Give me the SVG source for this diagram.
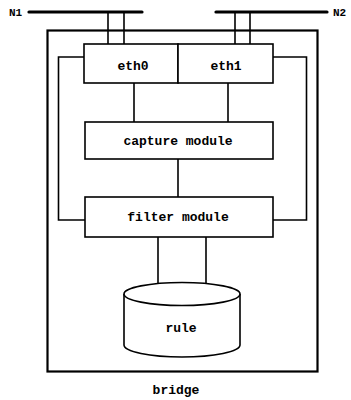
<svg xmlns="http://www.w3.org/2000/svg" width="351" height="400" viewBox="0 0 351 400">
  <style>
    .box { fill: #fff; stroke: #000; stroke-width: 1.6; }
    .wire { fill: none; stroke: #000; stroke-width: 1.6; }
    .bus { fill: none; stroke: #000; stroke-width: 3.2; stroke-linecap: round; }
    .lbl { font-family: "Liberation Mono", "DejaVu Sans Mono", monospace; font-weight: bold; font-size: 13px; text-anchor: middle; fill: #000; }
    .net { font-family: "Liberation Mono", "DejaVu Sans Mono", monospace; font-weight: bold; font-size: 11px; fill: #000; }
  </style>
  <rect width="351" height="400" fill="#fff"/>

  <!-- bridge enclosure -->
  <g id="bridge">
    <rect x="47.5" y="30.5" width="270" height="341" fill="none" stroke="#000" stroke-width="2.2"/>
    <text class="lbl" x="176" y="394">bridge</text>
  </g>

  <!-- network segments -->
  <g id="N1">
    <line class="bus" x1="29" y1="12" x2="142" y2="12"/>
    <text class="net" x="9" y="16">N1</text>
  </g>
  <g id="N2">
    <line class="bus" x1="216" y1="12" x2="327" y2="12"/>
    <text class="net" x="333" y="16">N2</text>
  </g>

  <!-- connectors -->
  <g id="connectors">
    <line class="wire" x1="108" y1="12" x2="108" y2="44"/>
    <line class="wire" x1="124" y1="12" x2="124" y2="44"/>
    <line class="wire" x1="235" y1="12" x2="235" y2="44"/>
    <line class="wire" x1="250" y1="12" x2="250" y2="44"/>
    <line class="wire" x1="134" y1="83" x2="134" y2="122"/>
    <line class="wire" x1="228" y1="83" x2="228" y2="122"/>
    <line class="wire" x1="178" y1="159" x2="178" y2="197"/>
    <polyline class="wire" points="84,57 58.5,57 58.5,220 85,220"/>
    <polyline class="wire" points="273,57 306.5,57 306.5,220 273,220"/>
    <line class="wire" x1="158" y1="237" x2="158" y2="286"/>
    <line class="wire" x1="206" y1="237" x2="206" y2="286"/>
  </g>

  <!-- interfaces -->
  <g id="eth0">
    <rect class="box" x="84" y="44" width="94" height="39"/>
    <text class="lbl" x="133" y="70">eth0</text>
  </g>
  <g id="eth1">
    <rect class="box" x="178" y="44" width="95" height="39"/>
    <text class="lbl" x="226" y="70">eth1</text>
  </g>

  <g id="capture">
    <rect class="box" x="85" y="122" width="188" height="37"/>
    <text class="lbl" x="178" y="145">capture module</text>
  </g>

  <g id="filter">
    <rect class="box" x="85" y="197" width="188" height="40"/>
    <text class="lbl" x="178" y="221">filter module</text>
  </g>

  <!-- rule store -->
  <g id="rule">
    <path class="box" d="M124,294 L124,345 A58,12 0 0 0 240,345 L240,294"/>
    <ellipse class="box" cx="182" cy="294" rx="58" ry="11.5"/>
    <text class="lbl" x="181" y="332">rule</text>
  </g>
</svg>
